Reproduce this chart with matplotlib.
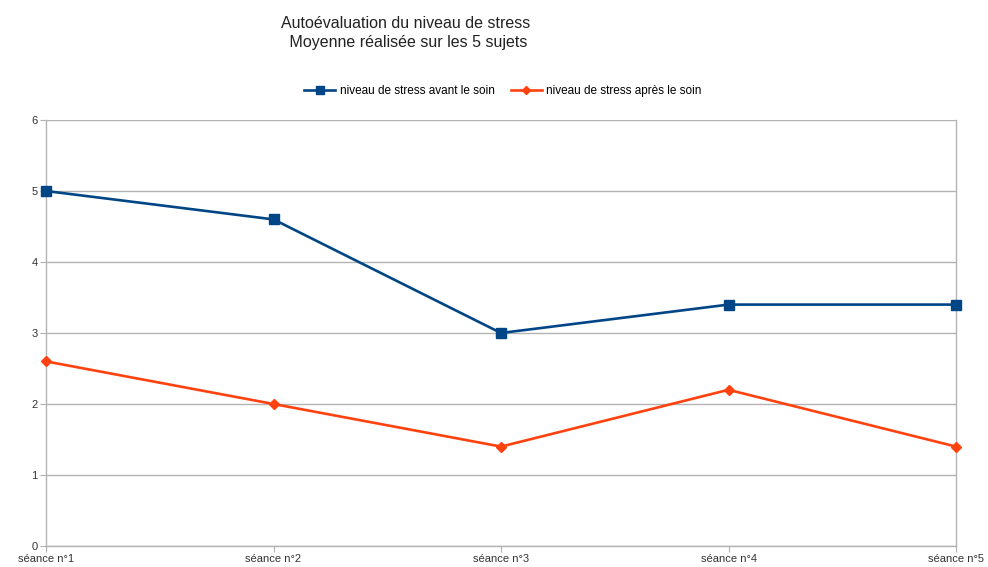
import matplotlib
matplotlib.use("Agg")
import matplotlib.pyplot as plt
from matplotlib.lines import Line2D

plt.rcParams['font.family'] = ['Liberation Sans', 'DejaVu Sans']

categories = ["séance n°1", "séance n°2", "séance n°3", "séance n°4", "séance n°5"]
avant = [5, 4.6, 3, 3.4, 3.4]
apres = [2.6, 2.0, 1.4, 2.2, 1.4]
series_names = ["niveau de stress avant le soin", "niveau de stress après le soin"]
title = "Autoévaluation du niveau de stress\n Moyenne réalisée sur les 5 sujets"

fig = plt.figure(figsize=(9.88, 5.67), dpi=100)
ax = fig.add_axes([46/988, 21/567, 910/988, 426/567])
x = list(range(len(categories)))
blue = "#004586"
orange = "#ff420e"
ax.plot(x, avant, color=blue, lw=1.9, marker="s", ms=7, clip_on=False, zorder=4)
ax.plot(x, apres, color=orange, lw=1.9, marker="D", ms=5, clip_on=False, zorder=4)

ax.set_xlim(0, 4)
ax.set_ylim(0, 6)
ax.set_yticks(range(7))
ax.set_xticks(x)
ax.set_xticklabels(categories)
ax.grid(axis="y", color="#b3b3b3", lw=1)
ax.set_axisbelow(True)
ax.spines["top"].set_visible(False)
for s in ["left", "right", "bottom"]:
    ax.spines[s].set_color("#b3b3b3")
    ax.spines[s].set_linewidth(1)
ax.tick_params(axis="both", colors="#b3b3b3", labelcolor="#333333", labelsize=8, length=4)
ax.tick_params(axis="x", pad=2)
ax.tick_params(axis="y", pad=2)

fig.text(406/988, 1 - 33/567, title, ha="center", va="center", fontsize=11.5, color="#222222", linespacing=1.3)

handles = [Line2D([], [], color=blue, lw=1.9, marker="s", ms=6),
           Line2D([], [], color=orange, lw=1.9, marker="D", ms=4.5)]
fig.legend(handles, series_names, loc="center", bbox_to_anchor=(503/988, 1 - 91/567), ncol=2,
           frameon=False, fontsize=8.5, handlelength=2.6, columnspacing=1.4, handletextpad=0.4)

fig.savefig("out.png", dpi=100)
